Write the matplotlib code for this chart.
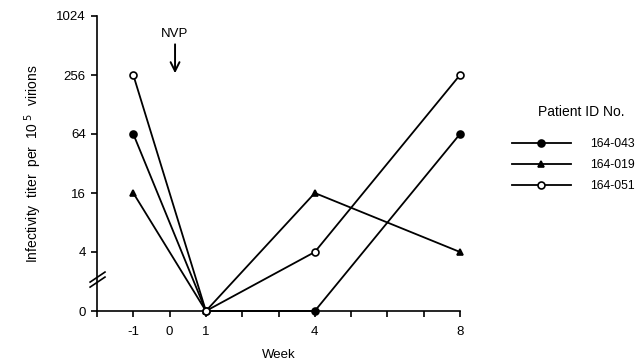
import numpy as np
import matplotlib
matplotlib.use("Agg")
import matplotlib.pyplot as plt

plt.rcParams['font.family'] = ['Liberation Sans', 'DejaVu Sans']

weeks = [-1, 1, 4, 8]
patients = ["164-043", "164-019", "164-051"]
titer_043 = [64, 0, 0, 64]
titer_019 = [16, 0, 16, 4]
titer_051 = [256, 0, 4, 256]
ytick_values = [0, 4, 16, 64, 256, 1024]
xtick_labels = {-1: "-1", 0: "0", 1: "1", 4: "4", 8: "8"}


def to_pos(v):
    # log4 scale, with 0 drawn one step (factor 4) below 4
    v = np.asarray(v, float)
    return np.where(v > 0, np.log(np.maximum(v, 1e-9)) / np.log(4), 0.0)


fig = plt.figure(figsize=(6.38, 3.6), dpi=100)
ax = fig.add_axes([97/638, 1-311/360, (460-97)/638, (311-16)/360])

styles = [
    dict(marker='o', mfc='black', mec='black'),
    dict(marker='^', mfc='black', mec='black'),
    dict(marker='o', mfc='white', mec='black'),
]
series = [titer_043, titer_019, titer_051]
handles = []
for name, vals, st in zip(patients, series, styles):
    h, = ax.plot(weeks, to_pos(vals), color='black', lw=1.3, ms=5, mew=1.2,
                 clip_on=False, zorder=3, label=name, **st)
    handles.append(h)

ax.set_xlim(-2, 8)
ax.set_ylim(0, 5)
ax.set_xticks(range(-2, 9))
ax.set_xticklabels([xtick_labels.get(i, "") for i in range(-2, 9)])
ax.set_yticks(to_pos(ytick_values))
ax.set_yticklabels([str(v) for v in ytick_values])
ax.spines['top'].set_visible(False)
ax.spines['right'].set_visible(False)
for s in ['left', 'bottom']:
    ax.spines[s].set_linewidth(1.2)
ax.tick_params(axis='both', direction='out', length=4, width=1.2, labelsize=9.5, pad=4)
ax.tick_params(axis='x', pad=7)

ax.set_xlabel("Week", fontsize=9.5, labelpad=8)
ax.set_ylabel("Infectivity  titer  per  10$^{\\ 5}$  virions", fontsize=10, labelpad=9)

# axis break marks
for dy in (0.0, 0.085):
    ax.plot([-2.19, -1.78], [0.49 - dy, 0.66 - dy], color='black', lw=1.2,
            clip_on=False)

# NVP annotation
ax.annotate("", xy=(0.15, 4.03), xytext=(0.15, 4.52),
            arrowprops=dict(arrowstyle='->', color='black', lw=1.4,
                            mutation_scale=16, shrinkA=0, shrinkB=0))
ax.text(0.15, 4.7, "NVP", ha='center', va='center', fontsize=9.5)

fig.text(581/638, 1-112/360, "Patient ID No.", ha='center', va='center', fontsize=10)
leg = ax.legend(handles=handles, loc='upper left',
                bbox_to_anchor=(512/638, 1-138/360), bbox_transform=fig.transFigure,
                frameon=False, fontsize=8.8, handlelength=4.8,
                handletextpad=1.6, labelspacing=0.75, borderaxespad=0, borderpad=0)

fig.savefig("out.png", dpi=100)
